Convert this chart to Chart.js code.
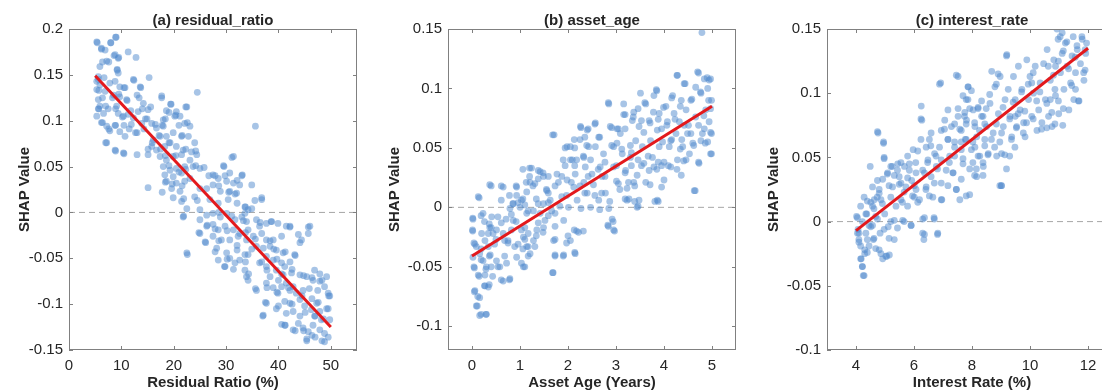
<!DOCTYPE html>
<html>
<head>
<meta charset="utf-8">
<title>SHAP dependence</title>
<script src="https://cdn.jsdelivr.net/npm/chart.js@4.4.1/dist/chart.umd.min.js"></script>
<style>
    html, body { margin: 0; padding: 0; background: #fff; }
    body { width: 1102px; height: 392px; position: relative; overflow: hidden; }
    canvas { position: absolute; top: 0; }
</style>
</head>
<body>
<canvas id="panelA" width="370" height="392" style="left:0px"></canvas>
<canvas id="panelB" width="370" height="392" style="left:370px"></canvas>
<canvas id="panelC" width="390" height="392" style="left:740px"></canvas>
<script>
// ---------- 数据 ----------

// (a) residual_ratio : [Residual Ratio %, SHAP]
const residualPts = [
    [5.3,0.186],[9.0,0.191],[8.0,0.185],[6.2,0.179],[6.9,0.177],[7.2,0.165],[8.8,0.172],[9.4,0.168],
    [11.3,0.175],[12.8,0.169],[5.9,0.159],[9.2,0.156],[9.4,0.152],[5.6,0.148],[5.3,0.143],[5.9,0.139],
    [7.8,0.141],[8.8,0.143],[9.7,0.137],[10.7,0.136],[12.3,0.145],[13.6,0.137],[15.3,0.147],[5.3,0.134],
    [5.6,0.123],[6.9,0.132],[8.5,0.128],[9.7,0.126],[11.0,0.123],[13.0,0.128],[14.2,0.119],[15.1,0.112],
    [5.6,0.113],[6.6,0.108],[7.5,0.113],[9.1,0.116],[9.4,0.108],[10.4,0.105],[11.3,0.107],[12.3,0.103],
    [13.2,0.110],[13.9,0.097],[14.6,0.102],[6.2,0.098],[7.2,0.094],[7.8,0.089],[8.8,0.095],[9.7,0.088],
    [10.7,0.083],[11.9,0.096],[13.0,0.087],[7.2,0.076],[8.8,0.068],[10.4,0.065],[13.0,0.063],[5.3,0.105],
    [5.9,0.116],
    [17.7,0.127],[19.5,0.118],[20.5,0.110],[22.5,0.115],[24.5,0.131],[18.6,0.111],[18.0,0.101],[15.8,0.097],
    [16.7,0.092],[18.0,0.094],[20.2,0.105],[21.2,0.105],[22.1,0.097],[23.1,0.094],[17.4,0.083],[16.1,0.079],
    [18.6,0.083],[19.9,0.087],[21.5,0.083],[22.8,0.083],[24.0,0.076],[15.8,0.072],[16.7,0.068],[18.3,0.072],
    [19.3,0.076],[20.5,0.072],[21.8,0.068],[23.4,0.066],[15.1,0.063],[17.4,0.061],[18.6,0.057],[19.9,0.061],
    [21.5,0.063],[23.1,0.057],[24.4,0.063],[18.0,0.050],[19.3,0.046],[20.5,0.048],[22.1,0.050],[23.7,0.050],
    [25.0,0.048],[18.3,0.041],[19.9,0.039],[21.5,0.043],[23.1,0.037],[18.6,0.034],[20.5,0.032],[22.1,0.034],
    [15.1,0.027],[19.6,0.026],[21.2,0.023],[19.9,0.016],[21.5,0.012],[25.0,0.026],[24.0,0.017],[22.5,0.004],
    [21.8,-0.005],[22.5,-0.044],[22.6,-0.046],
    [27.5,0.041],[28.5,0.037],[29.6,0.050],[30.7,0.043],[31.4,0.061],[30.1,0.034],[31.4,0.032],[33.1,0.041],
    [34.9,0.030],[32.6,0.030],[27.5,0.030],[26.3,0.026],[28.9,0.023],[30.7,0.023],[32.0,0.021],[26.9,0.014],
    [28.5,0.010],[30.4,0.014],[32.1,0.010],[33.6,0.006],[35.5,0.013],[36.8,0.014],[34.2,0.003],[25.0,0.003],
    [26.3,-0.003],[27.5,-0.001],[28.9,-0.005],[30.1,-0.001],[31.7,-0.008],[33.0,-0.005],[33.6,-0.001],[33.9,-0.010],
    [25.0,-0.008],[26.3,-0.015],[27.5,-0.013],[28.5,-0.019],[29.8,-0.015],[31.4,-0.019],[32.6,-0.023],[34.2,-0.019],
    [25.0,-0.023],[26.0,-0.032],[27.5,-0.026],[29.1,-0.030],[30.7,-0.030],[32.3,-0.026],[33.9,-0.030],[35.2,-0.026],
    [35.8,-0.037],[28.2,-0.039],[30.1,-0.044],[32.1,-0.041],[33.6,-0.046],[34.2,-0.046],[28.5,-0.052],[30.7,-0.050],
    [32.6,-0.052],[29.8,-0.059],[31.7,-0.055],[33.6,-0.063],[33.9,-0.070],[34.2,-0.074],[35.8,-0.085],[35.6,0.094],
    [35.8,-0.008],[36.4,-0.015],[37.7,-0.012],[38.6,-0.010],[39.9,-0.012],[41.5,-0.015],[42.2,-0.015],[36.8,-0.023],
    [37.7,-0.030],[39.0,-0.030],[40.6,-0.026],[43.8,-0.024],[44.4,-0.030],[45.7,-0.023],[46.0,-0.015],[37.1,-0.039],
    [38.4,-0.037],[39.6,-0.041],[40.9,-0.044],[43.1,-0.046],[37.7,-0.048],[39.0,-0.052],[40.6,-0.055],[42.2,-0.054],
    [36.4,-0.055],[37.7,-0.059],[39.6,-0.063],[41.2,-0.059],[42.5,-0.066],[44.1,-0.068],[45.4,-0.070],[46.6,-0.074],
    [47.9,-0.075],[48.8,-0.081],[49.5,-0.088],[38.4,-0.070],[40.0,-0.074],[40.9,-0.068],[41.5,-0.077],[42.8,-0.081],
    [37.7,-0.077],[39.0,-0.082],[40.6,-0.081],[42.2,-0.085],[43.4,-0.088],[44.7,-0.085],[45.9,-0.083],[47.5,-0.085],
    [37.7,-0.099],[37.1,-0.112],[39.6,-0.105],[41.2,-0.097],[42.2,-0.099],[42.8,-0.108],[44.1,-0.095],[45.0,-0.102],
    [46.3,-0.106],[47.3,-0.099],[47.9,-0.108],[49.5,-0.105],[41.2,-0.123],[42.8,-0.128],[43.8,-0.121],[44.7,-0.126],
    [45.7,-0.130],[46.6,-0.123],[47.9,-0.128],[48.8,-0.132],[45.4,-0.140],[47.0,-0.136],[48.8,-0.141],[49.5,-0.136],
    [49.8,-0.117],[48.2,-0.117],[46.9,-0.113],[44.1,-0.113],[39.9,-0.088],[41.5,-0.110],[49.8,-0.091],[46.9,-0.063],
    [47.9,-0.067],[49.2,-0.070],
    // second reading pass (denser clusters)
    [5.4,0.185],[7.95,0.185],[8.9,0.191],[6.2,0.178],[8.6,0.171],[9.5,0.169],[6.4,0.164],[7.6,0.164],
    [9.2,0.155],[5.6,0.145],[6.7,0.147],[10.5,0.136],[12.4,0.144],[5.7,0.133],[6.4,0.125],[8.3,0.125],
    [9.5,0.129],[11.1,0.122],[13.4,0.125],[13.7,0.136],[14.0,0.113],[15.6,0.115],[5.7,0.113],[7.0,0.116],
    [8.9,0.113],[10.2,0.104],[11.8,0.111],[14.9,0.102],[16.5,0.096],[6.4,0.098],[7.6,0.091],[8.9,0.095],
    [10.5,0.095],[11.5,0.091],[12.7,0.087],[14.3,0.091],[7.0,0.076],[8.9,0.067],[10.5,0.064],[15.1,0.069],
    [15.9,0.076],[17.2,0.084],[17.8,0.095],[18.4,0.102],[19.1,0.109],[17.7,0.125],[19.4,0.118],[20.4,0.106],
    [21.0,0.095],[22.3,0.115],[22.6,0.098],[21.6,0.084],[19.1,0.076],[17.5,0.069],[18.4,0.062],[20.4,0.062],
    [22.3,0.069],[24.2,0.067],[19.1,0.051],[21.0,0.044],[22.3,0.047],[18.4,0.033],[19.7,0.031],[21.6,0.029],
    [17.8,0.022],[21.9,0.015],[24.5,0.013],[21.9,-0.004],[24.8,-0.022],[26.1,-0.033],[26.4,-0.014],[25.8,0.049],
    [26.7,0.040],[24.2,0.051],
    [31.1,0.060],[29.5,0.051],[27.9,0.040],[29.8,0.040],[32.1,0.035],[33.0,0.040],[28.6,0.029],[30.5,0.022],
    [31.7,0.020],[36.8,0.016],[33.7,0.006],[34.9,0.004],[28.6,0.000],[31.1,-0.004],[33.3,-0.009],[36.5,-0.011],
    [38.7,-0.010],[42.2,-0.016],[45.7,-0.016],[27.9,-0.018],[30.2,-0.020],[33.7,-0.022],[35.6,-0.029],[38.4,-0.031],
    [44.1,-0.033],[28.6,-0.031],[32.1,-0.036],[34.9,-0.040],[39.1,-0.040],[41.3,-0.043],[27.9,-0.043],[30.2,-0.051],
    [33.7,-0.054],[36.8,-0.054],[39.7,-0.051],[43.2,-0.047],[29.7,-0.059],[31.4,-0.062],[34.3,-0.067],[37.8,-0.063],
    [40.6,-0.067],[42.6,-0.062],[44.8,-0.069],[46.4,-0.071],[48.3,-0.074],[49.6,-0.091],[35.6,-0.083],[37.8,-0.082],
    [39.7,-0.087],[41.9,-0.082],[44.5,-0.091],[46.4,-0.094],[47.6,-0.098],[49.2,-0.105],[37.5,-0.098],[40.0,-0.102],
    [42.6,-0.100],[45.1,-0.109],[47.0,-0.113],[48.6,-0.116],[37.0,-0.113],[40.6,-0.122],[43.2,-0.129],[44.8,-0.129],
    [46.4,-0.134],[48.3,-0.140],[45.4,-0.138],[41.3,-0.123]
];
const residualFit = [[5, 0.149], [50, -0.125]];
const residualXTicks = [0, 10, 20, 30, 40, 50];
const residualYTicks = [-0.15, -0.1, -0.05, 0, 0.05, 0.1, 0.15, 0.2];

// (b) asset_age : [Asset Age (Years), SHAP]
const assetAgePts = [
    [0.02,-0.010],[0.01,-0.019],[0.06,-0.031],[0.02,-0.042],[0.04,-0.050],[0.06,-0.070],[0.16,-0.076],[0.09,-0.083],
    [0.16,-0.091],[0.30,-0.090],[0.13,0.009],[0.23,-0.005],[0.20,-0.022],[0.27,-0.028],[0.16,-0.039],[0.23,-0.045],
    [0.30,-0.050],[0.13,-0.057],[0.27,-0.057],[0.27,-0.066],[0.34,-0.067],[0.37,0.019],[0.41,-0.008],[0.37,-0.017],
    [0.44,-0.022],[0.38,-0.040],[0.47,-0.031],[0.51,-0.045],[0.54,-0.008],[0.61,0.006],[0.65,0.017],[0.68,-0.028],
    [0.58,-0.050],[0.72,-0.047],[0.65,-0.062],[0.79,-0.060],[0.82,-0.019],[0.86,-0.011],[0.79,-0.001],[0.86,0.003],
    [0.93,0.010],[0.93,0.017],[0.89,-0.033],[0.96,-0.031],[0.93,-0.042],[0.65,-0.022],[0.51,-0.019],[0.75,-0.028],
    [1.03,-0.047],[1.07,-0.050],[0.34,-0.022],[0.09,-0.033],[0.34,-0.033],
    [1.03,0.006],[1.10,0.002],[1.14,-0.005],[1.10,-0.017],[1.07,-0.025],[1.14,-0.033],[1.17,-0.022],[1.21,0.021],
    [1.24,0.033],[1.31,0.020],[1.28,-0.003],[1.28,-0.028],[1.31,-0.033],[1.21,-0.039],[1.35,-0.019],[1.38,0.003],
    [1.42,0.030],[1.49,0.026],[1.56,0.014],[1.49,-0.017],[1.52,-0.011],[1.63,0.006],[1.66,-0.003],[1.73,-0.005],
    [1.70,-0.028],[1.68,-0.055],[1.68,0.061],[1.77,0.028],[1.80,0.021],[1.87,0.009],[1.91,-0.011],[1.73,-0.040],
    [1.91,-0.040],[1.98,0.023],[2.01,0.000],[2.05,0.040],[1.98,0.051],[1.49,0.003],[1.59,0.012],[1.14,0.013],
    [1.00,0.000],[1.42,-0.005],
    [2.05,0.051],[2.09,0.040],[2.12,0.017],[2.15,0.028],[2.15,-0.039],[2.13,-0.019],[2.05,-0.028],[2.22,-0.021],
    [2.26,0.068],[2.33,0.042],[2.36,0.034],[2.33,0.021],[2.40,0.012],[2.27,-0.001],[2.40,0.065],[2.43,0.051],
    [2.50,0.028],[2.47,0.040],[2.53,0.019],[2.57,0.071],[2.64,0.059],[2.67,0.034],[2.74,0.045],[2.71,0.026],
    [2.78,0.012],[2.85,0.087],[2.88,0.068],[2.83,-0.015],[2.95,-0.019],[2.92,-0.010],[2.95,0.051],[2.95,0.034],
    [3.02,0.054],[3.05,0.020],[2.85,-0.001],[2.64,0.006],[2.47,0.000],[2.19,0.006],[2.57,0.051],[3.02,0.066],
    [3.09,0.062],[3.16,0.087],[3.16,0.078],[3.20,0.031],[3.23,0.016],[3.27,0.007],[3.30,0.042],[3.34,0.073],
    [3.37,0.080],[3.41,0.056],[3.44,0.027],[3.48,0.006],[3.51,0.096],[3.48,0.068],[3.55,0.051],[3.58,0.037],
    [3.62,0.087],[3.62,0.021],[3.69,0.073],[3.76,0.042],[3.79,0.034],[3.79,0.094],[3.86,0.006],[3.90,0.051],
    [3.86,0.065],[3.97,0.055],[4.00,0.038],[4.00,0.023],[3.84,0.099],[3.44,0.000],[3.23,0.006],[3.37,0.021],
    [3.69,0.031],[3.72,0.056],[3.90,0.079],[3.30,0.052],[3.13,0.045],[3.58,0.063],
    [4.04,0.085],[4.07,0.072],[4.11,0.051],[4.14,0.034],[4.18,0.094],[4.21,0.079],[4.25,0.062],[4.28,0.111],
    [4.28,0.040],[4.36,0.027],[4.36,0.090],[4.39,0.051],[4.42,0.104],[4.42,0.069],[4.46,0.082],[4.49,0.062],
    [4.53,0.045],[4.56,0.090],[4.60,0.054],[4.63,0.014],[4.66,0.076],[4.70,0.114],[4.73,0.037],[4.77,0.096],
    [4.79,0.147],[4.80,0.062],[4.84,0.108],[4.87,0.082],[4.91,0.100],[4.91,0.055],[4.94,0.072],[4.99,0.090],
    [4.99,0.045],[4.99,0.062],[4.56,0.062],[4.46,0.040],[4.77,0.056],[4.84,0.066],[4.66,0.101],[4.94,0.107],
    [4.14,0.056],[4.32,0.072],
    // second reading pass
    [0.015,-0.009],[0.015,-0.020],[0.04,-0.030],[0.05,-0.051],[0.05,-0.071],[0.15,-0.058],[0.12,-0.075],[0.11,-0.083],
    [0.19,-0.090],[0.29,-0.090],[0.19,-0.007],[0.26,-0.012],[0.15,0.008],[0.36,-0.014],[0.40,-0.017],[0.19,-0.035],
    [0.19,-0.044],[0.36,-0.041],[0.40,-0.050],[0.29,-0.052],[0.26,-0.066],[0.36,-0.065],[0.43,-0.058],[0.61,-0.061],
    [0.78,-0.061],[0.54,-0.050],[0.68,-0.041],[0.75,-0.030],[0.50,-0.027],[0.61,-0.013],[0.71,-0.010],[0.82,-0.006],
    [0.92,-0.012],[1.03,-0.019],[1.10,-0.027],[1.06,-0.035],[1.17,-0.033],[1.17,-0.041],[1.10,-0.050],[0.85,0.003],
    [0.96,0.004],[1.06,0.007],[1.17,-0.003],[0.61,0.018],[0.78,0.010],[0.40,0.018],[0.92,0.018],[1.13,0.021],
    [1.20,0.026],[1.27,0.018],[1.38,0.024],[1.48,0.029],[1.34,0.007],[1.38,-0.013],[1.34,-0.024],[1.48,-0.021],
    [1.59,-0.007],[1.73,-0.016],[1.73,-0.027],[1.69,-0.055],[1.73,-0.041],[1.90,-0.041],[1.97,-0.030],[2.14,-0.038],
    [2.00,-0.024],[2.18,-0.020],[2.32,-0.020],[1.59,0.004],[1.83,0.001],[1.97,0.010],[1.55,0.015],[1.73,0.018],
    [1.87,0.026],[1.94,0.035],[2.14,0.035],[2.07,0.021],[2.25,0.018],[2.35,0.012],[2.42,0.026],[2.32,0.043],
    [2.18,0.040],[1.90,0.040],[1.94,0.050],[2.14,0.050],[2.39,0.052],[2.25,0.057],[2.35,0.059],[2.13,0.057],
    [1.71,0.061],[2.27,0.067],[2.42,0.066],[1.20,0.033],[1.38,0.031],[1.59,0.026],[1.06,0.032],
    [4.27,0.111],[4.72,0.113],[4.90,0.109],[4.97,0.108],[4.44,0.104],[4.58,0.091],[4.76,0.097],[4.93,0.090],
    [4.97,0.083],[4.83,0.077],[4.72,0.069],[4.97,0.063],[4.86,0.054],[4.72,0.038],[4.97,0.045],[4.62,0.052],
    [4.51,0.069],[4.34,0.085],[4.16,0.092],[3.99,0.084],[3.85,0.098],[3.78,0.080],[3.88,0.074],[4.06,0.069],
    [4.23,0.074],[4.37,0.057],[4.34,0.049],[4.16,0.057],[3.95,0.066],[3.71,0.071],[3.53,0.073],[3.60,0.088],
    [3.46,0.083],[3.36,0.076],[3.19,0.078],[3.19,0.066],[3.05,0.066],[2.91,0.067],[2.84,0.088],[2.56,0.070],
    [2.66,0.059],[2.91,0.052],[3.12,0.049],[3.32,0.046],[3.46,0.040],[3.67,0.043],[3.88,0.038],[4.09,0.035],
    [4.27,0.032],[4.41,0.039],[3.85,0.032],[3.53,0.035],[3.32,0.035],[3.19,0.029],[3.01,0.035],[2.77,0.038],
    [2.63,0.032],[2.77,0.026],[3.01,0.022],[3.26,0.021],[3.39,0.018],[3.71,0.019],[3.95,0.017],[3.08,0.015],
    [3.19,0.007],[3.39,0.005],[3.81,0.005],[3.88,0.005],[3.46,0.001],[2.87,0.005],[2.70,0.012],[2.56,0.010],
    [2.66,-0.002],[2.84,-0.016],[2.94,-0.012],[2.97,-0.020],[4.65,0.014],[3.95,0.035]
];
const assetAgeFit = [[0, -0.041], [5, 0.085]];
const assetAgeXTicks = [0, 1, 2, 3, 4, 5];
const assetAgeYTicks = [-0.1, -0.05, 0, 0.05, 0.1, 0.15];

// (c) interest_rate : [Interest Rate %, SHAP]
const interestPts = [
    [4.02,0.004],[4.07,-0.006],[4.10,-0.014],[4.16,0.012],[4.16,-0.019],[4.18,-0.029],[4.22,-0.035],[4.28,-0.042],
    [4.30,-0.025],[4.34,-0.009],[4.37,0.006],[4.39,0.016],[4.45,-0.019],[4.49,0.043],[4.51,-0.004],[4.57,0.027],
    [4.60,-0.014],[4.63,0.017],[4.68,0.004],[4.68,-0.021],[4.74,0.070],[4.74,0.032],[4.80,0.022],[4.83,-0.009],
    [4.86,-0.025],[4.91,0.014],[4.95,0.061],[4.97,0.049],[4.99,0.006],[5.03,-0.027],[5.09,0.038],[5.11,-0.004],
    [5.15,-0.026],[4.22,0.000],[4.10,-0.009],[4.57,0.012],[4.28,0.019],
    [5.20,0.043],[5.26,0.027],[5.32,-0.014],[5.32,0.001],[5.38,0.012],[5.44,0.045],[5.49,0.035],[5.55,0.017],
    [5.61,0.001],[5.67,0.043],[5.72,0.027],[5.78,0.012],[5.84,0.045],[5.90,-0.003],[5.92,0.032],[6.01,0.019],
    [6.07,0.038],[6.13,0.055],[6.19,0.017],[6.25,0.090],[6.27,0.079],[6.30,0.040],[6.30,-0.009],[6.34,-0.014],
    [6.36,0.003],[6.42,0.027],[6.48,0.048],[6.53,0.064],[6.59,0.035],[6.65,0.019],[6.69,0.003],[6.71,0.053],
    [6.77,0.043],[6.82,-0.009],[6.88,0.058],[6.92,0.108],[6.94,0.030],[6.96,0.017],[6.94,0.071],[6.59,0.069],
    [5.97,0.056],[5.78,0.051],[5.55,0.030],[6.42,0.058],[6.07,0.025],
    [7.06,0.079],[7.11,0.040],[7.17,0.064],[7.23,0.051],[7.29,0.074],[7.34,0.038],[7.40,0.058],[7.46,0.025],
    [7.52,0.113],[7.52,0.082],[7.58,0.017],[7.63,0.071],[7.69,0.045],[7.75,0.085],[7.77,0.064],[7.81,0.079],
    [7.87,0.105],[7.92,0.021],[7.98,0.056],[8.04,0.087],[8.10,0.074],[8.16,0.066],[8.16,0.035],[8.21,0.089],
    [8.27,0.051],[8.33,0.082],[8.39,0.043],[8.44,0.064],[8.50,0.074],[8.56,0.053],[8.62,0.092],[8.68,0.117],
    [8.73,0.069],[8.79,0.105],[8.85,0.051],[8.91,0.084],[8.97,0.113],[9.02,0.028],[9.02,0.053],[9.08,0.074],
    [9.14,0.095],[9.20,0.130],[7.40,0.076],[7.63,0.056],[8.10,0.058],[7.17,0.087],[7.98,0.102],[8.33,0.094],
    [6.94,0.048],[8.44,0.076],
    [9.25,0.103],[9.31,0.082],[9.37,0.066],[9.43,0.113],[9.49,0.095],[9.54,0.074],[9.60,0.121],[9.66,0.087],
    [9.72,0.103],[9.78,0.077],[9.83,0.066],[9.89,0.126],[9.95,0.095],[10.0,0.113],[10.06,0.082],[10.12,0.100],
    [10.18,0.121],[10.24,0.071],[10.30,0.087],[10.35,0.108],[10.41,0.077],[10.47,0.123],[10.53,0.095],[10.59,0.134],
    [10.64,0.082],[10.70,0.110],[10.76,0.074],[10.82,0.126],[10.88,0.098],[10.93,0.150],[10.97,0.142],[10.99,0.084],
    [11.05,0.116],[11.11,0.131],[11.13,0.075],[11.17,0.103],[11.22,0.139],[11.28,0.121],[11.34,0.087],[11.40,0.108],
    [11.45,0.129],[11.49,0.144],[11.51,0.095],[11.57,0.116],[11.63,0.134],[11.69,0.094],[11.74,0.123],[11.80,0.142],
    [11.86,0.110],[11.90,0.118],[11.92,0.131],[11.95,0.139],[11.11,0.147],[10.70,0.095],[10.06,0.108],[9.49,0.082],
    [9.02,0.069],[11.57,0.103],[10.88,0.121],
    // second reading pass
    [4.05,0.003],[4.05,-0.009],[4.10,-0.016],[4.16,-0.029],[4.22,-0.035],[4.25,-0.042],[4.30,-0.022],[4.39,-0.014],
    [4.45,-0.003],[4.34,0.006],[4.51,0.015],[4.62,0.010],[4.73,0.019],[4.80,0.025],[4.86,0.017],[4.92,0.033],
    [4.97,0.050],[4.95,0.062],[4.76,0.069],[5.08,0.037],[5.14,0.028],[5.20,0.019],[5.25,0.043],[5.32,0.036],
    [5.43,0.040],[5.55,0.046],[5.49,0.029],[5.60,0.015],[5.66,0.023],[5.78,0.034],[5.84,0.040],[5.95,0.020],
    [6.01,0.028],[6.06,0.046],[6.13,0.015],[6.24,0.080],[6.24,0.064],[6.36,0.038],[6.41,0.025],[6.47,0.046],
    [6.53,0.020],[6.58,0.059],[6.70,0.030],[6.76,0.051],[6.81,0.041],[6.94,0.017],[6.88,0.107],[4.74,0.002],
    [4.97,-0.006],[5.14,-0.013],[5.20,0.000],[5.43,-0.005],[5.66,0.000],[5.90,-0.003],[6.30,0.002],[6.36,-0.010],
    [6.70,0.002],[6.81,-0.010],[4.57,-0.003],[4.62,-0.013],[4.80,-0.022],[4.92,-0.029],[5.06,-0.027],[4.39,-0.024],
    [7.46,0.114],[7.52,0.088],[7.58,0.072],[7.63,0.062],[7.69,0.049],[7.40,0.051],[7.17,0.064],[7.05,0.072],
    [7.22,0.046],[7.35,0.038],[7.17,0.028],[7.46,0.025],[7.63,0.033],[7.80,0.076],[7.86,0.095],[7.69,0.098],
    [7.40,0.062],
    [7.86,0.105],[7.80,0.095],[7.74,0.082],[7.92,0.088],[8.09,0.077],[8.21,0.088],[8.26,0.071],[7.80,0.064],
    [8.03,0.062],[8.38,0.082],[8.49,0.088],[8.61,0.099],[8.84,0.107],[8.90,0.115],[9.19,0.129],[9.07,0.089],
    [8.84,0.076],[8.67,0.064],[8.44,0.059],[8.21,0.051],[8.03,0.046],[7.92,0.041],[8.09,0.036],[8.15,0.041],
    [8.38,0.046],[8.55,0.052],[8.78,0.058],[8.96,0.062],[9.13,0.052],[9.01,0.028],[9.36,0.064],[9.53,0.073],
    [9.30,0.080],[9.42,0.093],[9.59,0.084],[9.71,0.101],[9.82,0.086],[9.88,0.077],[9.94,0.107],[10.11,0.116],
    [10.23,0.094],[10.34,0.101],[10.40,0.072],[10.58,0.073],[10.63,0.121],[10.75,0.085],[10.81,0.114],[10.86,0.103],
    [10.98,0.125],[11.04,0.144],[11.15,0.133],[11.27,0.140],[11.33,0.119],[11.44,0.106],[11.56,0.128],[11.62,0.137],
    [11.67,0.094],[11.79,0.144],[11.85,0.116],[11.90,0.134],[11.15,0.088],[10.98,0.094],[10.58,0.092],[10.11,0.080],
    [9.77,0.069],[9.48,0.058],[9.30,0.051],[9.19,0.041],[8.38,0.036],[8.96,0.028],[7.80,0.020],[10.86,0.076]
];
const interestFit = [[4, -0.007], [12, 0.135]];
const interestXTicks = [4, 6, 8, 10, 12];
const interestYTicks = [-0.1, -0.05, 0, 0.05, 0.1, 0.15];

// ---------- 样式 ----------
const FONT = '"Liberation Sans", Arial, Helvetica, sans-serif';
const TEXT = '#262626';
const AXIS = '#808080';
const DOT = 'rgba(80, 138, 205, 0.5)';
const FIT = '#e3191c';

const fmt = v => String(+v.toFixed(3));

// 边框、内向刻度、标题
const panelFrame = {
    id: 'panelFrame',
    afterDraw(chart, args, opts) {
        const { ctx, chartArea: a, scales: { x, y } } = chart;
        ctx.save();
        ctx.strokeStyle = AXIS;
        ctx.lineWidth = 1;
        ctx.strokeRect(Math.round(a.left) + 0.5, Math.round(a.top) + 0.5,
            Math.round(a.right - a.left) - 1, Math.round(a.bottom - a.top) - 1);
        const tl = 4;
        ctx.beginPath();
        x.ticks.forEach(t => {
            const px = Math.round(x.getPixelForValue(t.value)) + 0.5;
            ctx.moveTo(px, a.bottom); ctx.lineTo(px, a.bottom - tl);
            ctx.moveTo(px, a.top); ctx.lineTo(px, a.top + tl);
        });
        y.ticks.forEach(t => {
            const py = Math.round(y.getPixelForValue(t.value)) + 0.5;
            ctx.moveTo(a.left, py); ctx.lineTo(a.left + tl, py);
            ctx.moveTo(a.right, py); ctx.lineTo(a.right - tl, py);
        });
        ctx.stroke();

        ctx.fillStyle = TEXT;
        ctx.textAlign = 'center';
        ctx.textBaseline = 'middle';
        ctx.font = 'bold 15px ' + FONT;
        const cx = (a.left + a.right) / 2;
        ctx.fillText(opts.title, cx, 21);
        ctx.fillText(opts.xLabel, cx, 383);
        ctx.translate(opts.yLabelX, (a.top + a.bottom) / 2);
        ctx.rotate(-Math.PI / 2);
        ctx.fillText('SHAP Value', 0, 0);
        ctx.restore();
    }
};

function makePanel(id, p) {
    const toXY = arr => arr.map(d => ({ x: d[0], y: d[1] }));
    return new Chart(document.getElementById(id), {
        type: 'scatter',
        data: {
            datasets: [{
                data: toXY(p.fit),
                showLine: true,
                borderColor: FIT,
                borderWidth: 3,
                pointRadius: 0,
                order: 0
            }, {
                data: toXY(p.pts),
                pointRadius: 3.4,
                backgroundColor: DOT,
                borderWidth: 0,
                pointBorderWidth: 0,
                order: 1
            }, {
                data: [{ x: p.xMin, y: 0 }, { x: p.xMax, y: 0 }],
                showLine: true,
                borderColor: '#a6a6a6',
                borderWidth: 1,
                borderDash: [6, 4],
                pointRadius: 0,
                order: 2
            }]
        },
        options: {
            responsive: false,
            animation: false,
            devicePixelRatio: 1,
            events: [],
            layout: { autoPadding: false, padding: { top: 29, right: p.padRight, left: 0, bottom: 0 } },
            plugins: {
                legend: { display: false },
                tooltip: { enabled: false },
                panelFrame: { title: p.title, xLabel: p.xLabel, yLabelX: p.yLabelX }
            },
            scales: {
                x: {
                    type: 'linear',
                    min: p.xMin, max: p.xMax,
                    grid: { display: false, drawTicks: false },
                    border: { display: false },
                    ticks: { color: TEXT, font: { family: FONT, size: 15 }, padding: 7, autoSkip: false, maxRotation: 0, callback: fmt },
                    afterBuildTicks: s => { s.ticks = p.xTicks.map(v => ({ value: v })); },
                    afterFit: s => { s.height = 42; }
                },
                y: {
                    type: 'linear',
                    min: p.yMin, max: p.yMax,
                    grid: { display: false, drawTicks: false },
                    border: { display: false },
                    ticks: { color: TEXT, font: { family: FONT, size: 15 }, padding: 6, autoSkip: false, callback: fmt },
                    afterBuildTicks: s => { s.ticks = p.yTicks.map(v => ({ value: v })); },
                    afterFit: s => { s.width = p.yAxisW; }
                }
            }
        },
        plugins: [panelFrame]
    });
}

makePanel('panelA', {
    pts: residualPts, fit: residualFit, xTicks: residualXTicks, yTicks: residualYTicks,
    xMin: 0, xMax: 55, yMin: -0.15, yMax: 0.2,
    title: '(a) residual_ratio', xLabel: 'Residual Ratio (%)',
    yAxisW: 69, padRight: 13, yLabelX: 25
});
makePanel('panelB', {
    pts: assetAgePts, fit: assetAgeFit, xTicks: assetAgeXTicks, yTicks: assetAgeYTicks,
    xMin: -0.5, xMax: 5.5, yMin: -0.12, yMax: 0.15,
    title: '(b) asset_age', xLabel: 'Asset Age (Years)',
    yAxisW: 78, padRight: 4, yLabelX: 25
});
makePanel('panelC', {
    pts: interestPts, fit: interestFit, xTicks: interestXTicks, yTicks: interestYTicks,
    xMin: 3, xMax: 13, yMin: -0.1, yMax: 0.15,
    title: '(c) interest_rate', xLabel: 'Interest Rate (%)',
    yAxisW: 87, padRight: 13, yLabelX: 34
});
</script>
</body>
</html>
